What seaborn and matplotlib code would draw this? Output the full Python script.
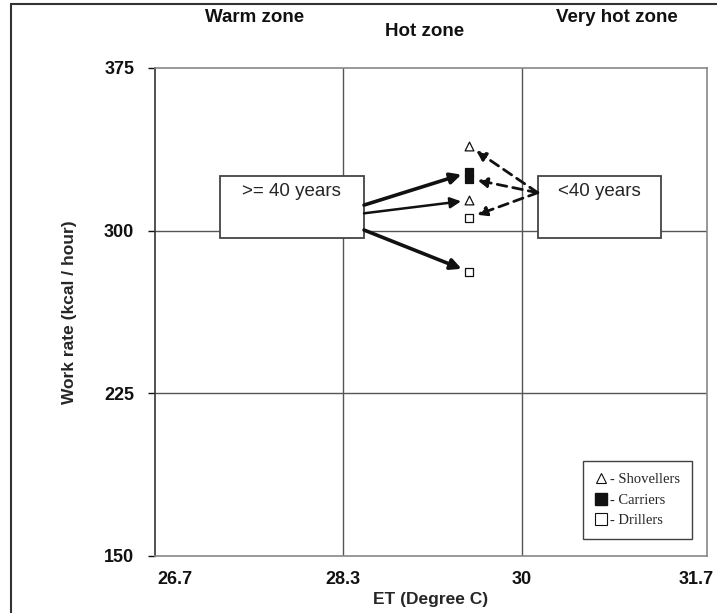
import numpy as np
import pandas as pd
import matplotlib
matplotlib.use("Agg")
import matplotlib.pyplot as plt
import matplotlib.transforms as mtransforms
import seaborn as sns
from matplotlib.patches import Rectangle
from matplotlib.lines import Line2D

# Work rate of miners by age group in the hot zone

groups = ["Shovellers", "Carriers", "Drillers"]
et_value = 29.5
rate_old = [314, 327, 281]     # >= 40 years
rate_young = [339, 324, 306]   # < 40 years

x_ticks = [26.7, 28.3, 30, 31.7]
x_labels = ["26.7", "28.3", "30", "31.7"]
y_ticks = [150, 225, 300, 375]
zones = ["Warm zone", "Hot zone", "Very hot zone"]

df = pd.DataFrame({
    "group": groups * 2,
    "age": [">= 40 years"] * 3 + ["<40 years"] * 3,
    "et": [et_value] * 6,
    "rate": rate_old + rate_young,
})

sns.set_style("white")
plt.rcParams["font.family"] = ["Liberation Sans", "DejaVu Sans"]

fig = plt.figure(figsize=(7.17, 6.13), dpi=100)
ax = fig.add_axes([155 / 717, 1 - 556 / 613, 552 / 717, 488 / 613])

ax.set_xlim(26.515, 31.757)
ax.set_ylim(150, 375)

# grid lines
for gx in [28.3, 30]:
    ax.axvline(gx, color="#555555", lw=1, zorder=1)
for gy in [225, 300]:
    ax.axhline(gy, color="#555555", lw=1, zorder=1)

# age boxes
boxes = [(27.13, 28.50, ">= 40 years"), (30.15, 31.32, "<40 years")]
for x0, x1, txt in boxes:
    ax.add_patch(Rectangle((x0, 296.6), x1 - x0, 325.2 - 296.6, facecolor="white",
                           edgecolor="#444444", lw=1.3, zorder=2))
    ax.text((x0 + x1) / 2, 321.8, txt, ha="center", va="top", fontsize=13.5, zorder=3)

# markers
styles = {
    "Shovellers": dict(marker="^", facecolor="white", s=40),
    "Carriers": dict(marker="s", facecolor="#111111", s=38),
    "Drillers": dict(marker="s", facecolor="white", s=38),
}
for g in groups:
    sub = df[df["group"] == g]
    st = styles[g]
    sns.scatterplot(data=sub, x="et", y="rate", marker=st["marker"], s=st["s"],
                    color=st["facecolor"], edgecolor="#111111", linewidth=0.9,
                    ax=ax, zorder=5, legend=False)

# solid arrows from >= 40 box
solid_start = [308.0, 311.8, 300.3]
solid_lw = [1.8, 2.6, 2.6]
for i, g in enumerate(groups):
    ax.annotate("", xy=(et_value, rate_old[i]), xytext=(28.50, solid_start[i]),
                arrowprops=dict(arrowstyle="-|>", color="#111111", lw=solid_lw[i],
                                mutation_scale=16, shrinkA=0, shrinkB=6), zorder=4)

# dashed arrows from < 40 box
for i, g in enumerate(groups):
    ax.annotate("", xy=(et_value, rate_young[i]), xytext=(30.15, 317.5),
                arrowprops=dict(arrowstyle="-|>", color="#111111", lw=2.0,
                                linestyle=(0, (3.5, 2.2)), mutation_scale=14,
                                shrinkA=0, shrinkB=6), zorder=4)

# ticks and labels
ax.set_xticks(x_ticks)
ax.set_xticklabels(x_labels, fontsize=13, fontweight="bold")
ax.set_yticks(y_ticks)
ax.set_yticklabels([str(v) for v in y_ticks], fontsize=13, fontweight="bold")
ax.tick_params(axis="x", length=0, pad=11, colors="#111111")
ax.tick_params(axis="y", length=5, width=1, direction="out", pad=10, colors="#111111", left=True)
# nudge the last x label inward so it stays on the canvas
last = ax.get_xticklabels()[-1]
last.set_transform(last.get_transform() + mtransforms.ScaledTranslation(-5 / 100, 0, fig.dpi_scale_trans))

ax.set_xlabel("ET (Degree C)", fontsize=12.5, fontweight="bold", labelpad=3)
ax.set_ylabel("Work rate (kcal / hour)", fontsize=12.5, fontweight="bold")
ax.yaxis.set_label_coords(-(155 - 77) / 552, 0.5)

for side in ["top", "right", "bottom"]:
    ax.spines[side].set_color("#888888")
    ax.spines[side].set_linewidth(1.2)
ax.spines["left"].set_color("#333333")
ax.spines["left"].set_linewidth(1.2)

# zone labels above the plot
zone_pos = [(255, 18), (425, 31), (617, 18)]
for (px, py), z in zip(zone_pos, zones):
    fig.text(px / 717, 1 - py / 613, z, ha="center", va="center", fontsize=13.5,
             fontweight="bold", color="#111111")

# legend
handles = [
    Line2D([], [], marker="^", ls="none", markersize=7.5, markerfacecolor="white",
           markeredgecolor="#111111", markeredgewidth=0.8),
    Line2D([], [], marker="s", ls="none", markersize=8, markerfacecolor="#111111",
           markeredgecolor="#111111"),
    Line2D([], [], marker="s", ls="none", markersize=8, markerfacecolor="white",
           markeredgecolor="#111111", markeredgewidth=0.8),
]
leg = ax.legend(handles, ["- " + g for g in groups], loc="lower right",
                bbox_to_anchor=((692 - 155) / 552, (556 - 539) / 488),
                prop={"family": "Liberation Serif", "size": 10.5}, frameon=True,
                fancybox=False, edgecolor="#111111", handlelength=0.9,
                handletextpad=0.2, labelspacing=0.5, borderpad=0.8,
                borderaxespad=0)
leg.get_frame().set_linewidth(1.0)

# outer frame of the figure
fig.add_artist(Line2D([11 / 717, 11 / 717], [0, 1 - 4 / 613], color="#333333", lw=1.5))
fig.add_artist(Line2D([11 / 717, 1], [1 - 4 / 613, 1 - 4 / 613], color="#333333", lw=1.5))

fig.savefig("out.png", dpi=100)
